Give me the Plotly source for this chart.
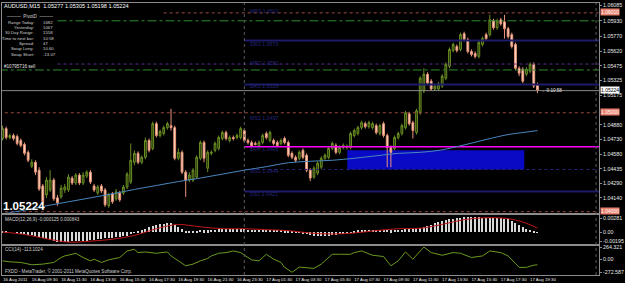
import plotly.graph_objects as go

# ---------------- data ----------------
symbol = "AUDUSD,M15"
bars = list(range(147))
opens = [1.0474,1.0484,1.0475,1.0477,1.0476,1.0472,1.0468,1.0460,1.0446,1.0450,
1.0442,1.0426,1.0417,1.0422,1.0432,1.0414,1.0415,1.0422,1.0422,1.0434,
1.0429,1.0437,1.0429,1.0436,1.0440,1.0426,1.0419,1.0426,1.0422,1.0406,
1.0418,1.0413,1.0419,1.0419,1.0425,1.0430,1.0450,1.0459,1.0450,1.0455,
1.0472,1.0464,1.0489,1.0477,1.0479,1.0485,1.0487,1.0485,1.0454,1.0460,
1.0440,1.0432,1.0432,1.0435,1.0454,1.0470,1.0444,1.0459,1.0462,1.0464,
1.0474,1.0480,1.0472,1.0475,1.0475,1.0475,1.0482,1.0472,1.0470,1.0469,
1.0466,1.0470,1.0479,1.0472,1.0472,1.0470,1.0469,1.0474,1.0470,1.0459,
1.0455,1.0454,1.0462,1.0457,1.0442,1.0435,1.0439,1.0445,1.0454,1.0455,
1.0464,1.0467,1.0460,1.0465,1.0465,1.0465,1.0477,1.0479,1.0485,1.0489,
1.0486,1.0485,1.0487,1.0479,1.0489,1.0477,1.0465,1.0464,1.0475,1.0479,
1.0485,1.0499,1.0490,1.0480,1.0500,1.0522,1.0539,1.0532,1.0524,1.0524,
1.0527,1.0535,1.0547,1.0563,1.0567,1.0564,1.0580,1.0574,1.0562,1.0560,
1.0557,1.0569,1.0579,1.0579,1.0593,1.0586,1.0594,1.0592,1.0585,1.0579,
1.0569,1.0545,1.0544,1.0539,1.0542,1.0549,1.05277]
highs = [1.0487,1.0486,1.0479,1.0479,1.0478,1.0474,1.0470,1.0462,1.0453,1.0452,
1.0445,1.0428,1.0435,1.0442,1.0434,1.0417,1.0427,1.0428,1.0438,1.0436,
1.0439,1.0439,1.0440,1.0442,1.0442,1.0428,1.0427,1.0428,1.0424,1.0419,
1.0420,1.0423,1.0421,1.0427,1.0440,1.0469,1.0462,1.0461,1.0457,1.0475,
1.0474,1.0491,1.0491,1.0483,1.0487,1.0491,1.0504,1.0487,1.0464,1.0462,
1.0442,1.0440,1.0444,1.0457,1.0472,1.0472,1.0462,1.0462,1.0471,1.0477,
1.0482,1.0482,1.0477,1.0477,1.0479,1.0486,1.0484,1.0474,1.0472,1.0471,
1.0472,1.0479,1.0481,1.0482,1.0474,1.0472,1.0474,1.0476,1.0472,1.0461,
1.0457,1.0462,1.0464,1.0459,1.0444,1.0446,1.0451,1.0456,1.0459,1.0466,
1.0471,1.0469,1.0467,1.0469,1.0468,1.0481,1.0484,1.0487,1.0492,1.0491,
1.0492,1.0491,1.0489,1.0489,1.0491,1.0479,1.0467,1.0477,1.0481,1.0489,
1.0502,1.0501,1.0492,1.0504,1.0537,1.0545,1.0541,1.0534,1.0529,1.0531,
1.0539,1.0551,1.0566,1.0571,1.0569,1.0581,1.0582,1.0576,1.0564,1.0562,
1.0573,1.0577,1.0581,1.0599,1.0595,1.0595,1.0596,1.0599,1.0587,1.0581,
1.0571,1.0547,1.0546,1.0546,1.0551,1.0551,1.05305]
lows = [1.0472,1.0473,1.0473,1.0472,1.0467,1.0465,1.0457,1.0450,1.0444,1.0437,
1.0421,1.0407,1.0414,1.0420,1.0411,1.0406,1.0413,1.0419,1.0420,1.0427,
1.0427,1.0427,1.0427,1.0434,1.0428,1.0420,1.0417,1.0419,1.0405,1.0404,
1.0408,1.0411,1.0410,1.0417,1.0423,1.0428,1.0447,1.0448,1.0448,1.0453,
1.0460,1.0462,1.0475,1.0475,1.0477,1.0483,1.0482,1.0452,1.0452,1.0438,
1.0415,1.0430,1.0430,1.0433,1.0452,1.0450,1.0440,1.0457,1.0460,1.0462,
1.0472,1.0472,1.0470,1.0472,1.0473,1.0473,1.0470,1.0468,1.0464,1.0467,
1.0464,1.0468,1.0473,1.0470,1.0467,1.0465,1.0467,1.0468,1.0455,1.0453,
1.0450,1.0452,1.0453,1.0440,1.0431,1.0433,1.0437,1.0443,1.0452,1.0453,
1.0462,1.0458,1.0458,1.0463,1.0463,1.0463,1.0475,1.0477,1.0483,1.0484,
1.0484,1.0483,1.0478,1.0477,1.0475,1.0445,1.0445,1.0462,1.0473,1.0477,
1.0483,1.0487,1.0474,1.0478,1.0498,1.0520,1.0528,1.0522,1.0522,1.0522,
1.0525,1.0533,1.0545,1.0561,1.0561,1.0562,1.0572,1.0560,1.0557,1.0555,
1.0555,1.0567,1.0573,1.0577,1.0584,1.0584,1.0588,1.0575,1.0575,1.0565,
1.0543,1.0537,1.0530,1.0537,1.0540,1.0525,1.05198]
closes = [1.0484,1.0475,1.0477,1.0474,1.0469,1.0467,1.0459,1.0452,1.0450,1.0440,
1.0423,1.0410,1.0432,1.0432,1.0413,1.0409,1.0424,1.0425,1.0435,1.0429,
1.0437,1.0429,1.0437,1.0440,1.0430,1.0422,1.0425,1.0421,1.0407,1.0417,
1.0410,1.0420,1.0412,1.0425,1.0438,1.0452,1.0459,1.0450,1.0455,1.0472,
1.0462,1.0489,1.0477,1.0481,1.0485,1.0489,1.0485,1.0454,1.0460,1.0440,
1.0432,1.0437,1.0442,1.0455,1.0470,1.0454,1.0460,1.0460,1.0469,1.0475,
1.0480,1.0474,1.0475,1.0474,1.0477,1.0484,1.0472,1.0470,1.0466,1.0468,
1.0470,1.0477,1.0475,1.0480,1.0469,1.0467,1.0472,1.0470,1.0457,1.0455,
1.0452,1.0460,1.0455,1.0442,1.0434,1.0444,1.0449,1.0454,1.0457,1.0464,
1.0469,1.0460,1.0465,1.0467,1.0466,1.0479,1.0482,1.0485,1.0490,1.0486,
1.0490,1.0489,1.0480,1.0487,1.0477,1.0465,1.0460,1.0475,1.0479,1.0487,
1.0500,1.0489,1.0482,1.0502,1.0535,1.0539,1.0530,1.0524,1.0527,1.0529,
1.0537,1.0549,1.0564,1.0569,1.0563,1.0579,1.0574,1.0562,1.0559,1.0557,
1.0571,1.0575,1.0575,1.0594,1.0586,1.0593,1.0590,1.0585,1.0577,1.0567,
1.0545,1.0540,1.0532,1.0544,1.0549,1.0527,1.05224]

ma_bars = [0,6,12,18,24,30,36,42,48,54,60,66,72,78,84,90,96,102,108,114,120,126,132,138,142,146]
ma_vals = [1.0398,1.04015,1.0406,1.0410,1.0414,1.0418,1.04225,1.04265,1.04305,1.0434,1.0438,1.0442,
           1.04455,1.04495,1.0451,1.0452,1.0454,1.04565,1.0459,1.0460,1.04625,1.04675,1.0473,1.0478,1.0480,1.0482]

macd_main = [0.0001,0.0001,0.0000,0.0000,-0.0001,-0.0002,-0.0003,-0.0005,-0.0006,-0.0008,
-0.0010,-0.0012,-0.0014,-0.0016,-0.0018,-0.0020,-0.0021,-0.0020,-0.0020,-0.0019,
-0.0018,-0.0018,-0.0017,-0.0017,-0.0016,-0.0015,-0.0014,-0.0013,-0.0012,-0.0011,
-0.0011,-0.0010,-0.0009,-0.0008,-0.0007,-0.0004,-0.0001,0.0002,0.0004,0.0008,
0.0011,0.0014,0.0016,0.0017,0.0018,0.0019,0.0019,0.0016,0.0012,0.0007,
0.0003,0.0002,0.0002,0.0003,0.0005,0.0004,0.0004,0.0005,0.0006,0.0007,
0.0007,0.0007,0.0007,0.0007,0.0007,0.0008,0.0007,0.0006,0.0006,0.0005,
0.0005,0.0005,0.0006,0.0006,0.0005,0.0005,0.0005,0.0004,0.0003,0.0002,
0.0001,-0.0001,-0.0002,-0.0004,-0.0006,-0.0007,-0.0007,-0.0008,-0.0008,-0.0007,
-0.0006,-0.0005,-0.0004,-0.0003,-0.0002,-0.0001,0.0002,0.0004,0.0005,0.0006,
0.0006,0.0006,0.0006,0.0006,0.0006,0.0005,0.0004,0.0005,0.0006,0.0006,
0.0007,0.0007,0.0007,0.0008,0.0010,0.0012,0.0014,0.0016,0.0019,0.0021,
0.0023,0.0025,0.0027,0.0029,0.0030,0.0031,0.0032,0.0032,0.0033,0.0032,
0.0032,0.0031,0.0031,0.0031,0.0031,0.0030,0.0030,0.0029,0.0027,0.0024,
0.0020,0.0016,0.0012,0.0008,0.0005,0.0002,-0.000125]
signal_bars = [0,6,12,18,24,30,36,42,46,48,54,60,66,72,78,84,90,96,102,108,114,120,126,132,138,142,146]
signal_vals = [0.0000,-0.0005,-0.0014,-0.0021,-0.0019,-0.0015,-0.0007,0.0007,0.0014,0.0016,0.0011,0.0007,0.0007,
               0.0005,0.0003,-0.0002,-0.0004,-0.0002,0.0003,0.0007,0.0008,0.0016,0.0026,0.0030,0.0028,0.0021,0.000843]

cci_bars = [0,2,5,8,11,14,16,17,19,20,22,24,25,27,29,32,33,34,36,37,39,42,45,46,48,50,52,54,56,57,
            59,61,63,65,67,68,70,72,74,76,77,79,81,83,85,87,90,92,95,96,98,101,104,106,108,110,112,115,
            117,120,123,125,128,131,133,136,138,141,143,145,146]
cci_vals = [-29,-50,-63,-113,-99,-63,42,76,111,132,42,-29,6,-63,-8,42,111,181,216,147,160,132,160,76,-29,
            -134,-99,-29,21,76,132,147,181,147,42,-8,-29,111,6,-63,-168,-272.587,-162,-168,-189,-99,111,111,
            111,147,181,90,63,-134,-29,160,6,264.321,147,90,147,132,42,76,181,147,76,-168,-168,-120,-113.1024]

time_label_bars = [0,8,16,24,32,40,48,56,64,72,80,88,96,104,112,120,128,136,144]
time_labels = ["16 Aug 2011","16 Aug 09:30","16 Aug 11:30","16 Aug 13:30","16 Aug 15:30","16 Aug 17:30",
               "16 Aug 19:30","16 Aug 21:30","16 Aug 23:30","17 Aug 01:30","17 Aug 03:30","17 Aug 05:30",
               "17 Aug 07:30","17 Aug 09:30","17 Aug 11:30","17 Aug 13:30","17 Aug 15:30","17 Aug 17:30",
               "17 Aug 19:30"]
price_ticks = [1.06085,1.05930,1.05770,1.05620,1.05475,1.05325,1.05175,1.04880,1.04730,1.04580,1.04435,1.04290,1.04140]
macd_ticks = [0.00281, 0.0, -0.00195]
macd_tick_text = ["0.00281", "0.00", "-0.00195"]
cci_ticks = [264.321, 0.0, -272.587]
cci_tick_text = ["264.321", "0.00", "-272.587"]

day_breaks = [66, 162]

# horizontal levels: price, first bar, colour, dash, width
level_prices = [1.0601, 1.0593, 1.0573, 1.05493, 1.05433, 1.05285, 1.05224, 1.0500, 1.04657, 1.04427, 1.04203, 1.0400]
level_start = [44, 15, 66, 15, -1, 66, -1, -1, 66, 66, 66, -1]
level_colors = ["#9A4A42", "#2E8B2E", "#1C1C6A", "#5A2D91", "#2E8B2E", "#1C1C6A", "#8A8A8A", "#9A4A42",
                "#FF00FF", "#26267A", "#1C1C6A", "#9A4A42"]
level_dash = ["dot", "dashdot", "solid", "dot", "dashdot", "solid", "solid", "dot", "solid", "dot", "solid", "dot"]
level_width = [1, 1, 2, 1, 1, 2, 1, 1, 1.5, 1, 2, 1]

pivot_label_text = ["MR3 1.0601", "DR2 1.0573", "MR2 1.0551", "DR1 1.0529", "MS2 1.0497", "DPP 1.0466",
                    "MS1 1.0444", "DS1 1.0421"]
pivot_label_price = [1.0603, 1.0570, 1.0550, 1.0527, 1.0495, 1.0463, 1.0441, 1.0418]

zone_bars = [94.1, 142.4]
zone_prices = [1.04427, 1.0462]

axis_boxes_price = [1.0601, 1.05224, 1.0500, 1.0400]
axis_boxes_text = ["1.06010", "1.05224", "1.05000", "1.04000"]
axis_boxes_bg = ["#E8806E", "#FFFFFF", "#E8806E", "#E8806E"]
axis_boxes_fg = ["#FFFFFF", "#000000", "#FFFFFF", "#FFFFFF"]

info_labels = ["Range Today:", "Yesterday:", "30 Day Range:", "Time to next bar:", "Spread:", "Swap Long:", "Swap Short:"]
info_values = ["1682", "1067", "1558", "10:58", "47", "10.60", "-13.07"]

# ---------------- figure ----------------
W, H = 625, 283
ML, MR, MT, MB = 2, 25, 1, 7
PW, PH = W - ML - MR, H - MT - MB
X0, X1 = -0.136, 162.8

def px(xp):
    return (xp - ML) / PW

def py(yp):
    return (H - MB - yp) / PH

FONT = "Liberation Sans"
fig = go.Figure()

fig.add_shape(type="rect", xref="x", yref="y", x0=zone_bars[0], x1=zone_bars[1],
              y0=zone_prices[0], y1=zone_prices[1], fillcolor="#0A0AC4", line=dict(width=0), layer="below")

for p, s, c, d, w in zip(level_prices, level_start, level_colors, level_dash, level_width):
    fig.add_trace(go.Scatter(x=[s, X1 + 1], y=[p, p], mode="lines", line=dict(color=c, dash=d, width=w),
                             hoverinfo="skip", showlegend=False, xaxis="x", yaxis="y"))

fig.add_trace(go.Scatter(x=ma_bars, y=ma_vals, mode="lines", line=dict(color="#4A86BE", width=1, shape="spline"),
                         hoverinfo="skip", showlegend=False, xaxis="x", yaxis="y"))

fig.add_trace(go.Candlestick(x=bars, open=opens, high=highs, low=lows, close=closes,
                             increasing=dict(line=dict(color="#6B8E23", width=1), fillcolor="#22330B"),
                             decreasing=dict(line=dict(color="#E9967A", width=1), fillcolor="#FFE0C8"),
                             whiskerwidth=0, hoverinfo="skip", showlegend=False, xaxis="x", yaxis="y"))

fig.add_trace(go.Bar(x=bars, y=macd_main, width=0.3, marker=dict(color="#D8D8D8", line=dict(width=0)),
                     hoverinfo="skip", showlegend=False, xaxis="x2", yaxis="y2"))
fig.add_trace(go.Scatter(x=signal_bars, y=signal_vals, mode="lines", line=dict(color="#C01818", width=1, shape="spline"),
                         hoverinfo="skip", showlegend=False, xaxis="x2", yaxis="y2"))
fig.add_trace(go.Scatter(x=cci_bars, y=cci_vals, mode="lines", line=dict(color="#6B9A1F", width=1),
                         hoverinfo="skip", showlegend=False, xaxis="x3", yaxis="y3"))

for b in day_breaks:
    fig.add_shape(type="line", xref="x", yref="paper", x0=b, x1=b, y0=0, y1=1,
                  line=dict(color="#5A5A5A", width=1, dash="dot"))

ann = []
def text(xp, yp, t, size=6, color="#E0E0E0", xanchor="left", bold=False, family=FONT):
    ann.append(dict(x=px(xp), y=py(yp), xref="paper", yref="paper", text=("<b>%s</b>" % t) if bold else t,
                    showarrow=False, xanchor=xanchor, yanchor="middle",
                    font=dict(size=size, color=color, family=family)))

SMALL = 4.6
text(1.5, 4.5, "%s  %.5f %.5f %.5f %.5f" % (symbol, opens[-1], highs[-1], lows[-1], closes[-1]), size=5.6, color="#FFFFFF")
text(5, 15, "———  PivotD  ———", size=SMALL, color="#D0D0D0")
for i, (lab, val) in enumerate(zip(info_labels, info_values)):
    yy = 20.5 + i * 5.4
    text(36, yy, lab, size=4.3, color="#D0D0D0", xanchor="right")
    text(41, yy, val, size=4.3, color="#D0D0D0")
text(2, 65, "#10795716 sell", size=SMALL, color="#E0E0E0")
text(1, 206, "%.5f" % closes[-1], size=11.5, color="#FFFFFF", bold=True)
text(541, 89, "←0:10:58", size=SMALL, color="#E0E0E0")

for t, p in zip(pivot_label_text, pivot_label_price):
    ann.append(dict(x=67, y=p, xref="x", yref="y", text=t, showarrow=False, xanchor="left", yanchor="middle",
                    font=dict(size=5.3, color="#26267E", family=FONT)))

for p, t, bg, fg in zip(axis_boxes_price, axis_boxes_text, axis_boxes_bg, axis_boxes_fg):
    ann.append(dict(x=1.0, y=p, xref="paper", yref="y", text=t, showarrow=False, xanchor="left", yanchor="middle",
                    xshift=1, yshift=0.5, bgcolor=bg, borderpad=0, font=dict(size=5.0, color=fg, family=FONT)))

text(3, 220, "MACD(12,26,9) -0.000125 0.000843", size=SMALL, color="#D0D0D0")
text(3, 250, "CCI(14) -113.1024", size=SMALL, color="#D0D0D0")
text(3, 272, "FXDD - MetaTrader, © 2001-2011 MetaQuotes Software Corp.", size=SMALL, color="#D0D0D0")

axis_common = dict(showgrid=False, zeroline=False, showline=True, mirror=True, linecolor="#8C8C8C", linewidth=1)
yfont = dict(size=5.3, color="#E8E8E8", family=FONT)

fig.update_layout(
    width=W, height=H, margin=dict(l=ML, r=MR, t=MT, b=MB),
    paper_bgcolor="#000000", plot_bgcolor="#000000", showlegend=False, bargap=0,
    annotations=ann, hovermode=False,
    xaxis=dict(domain=[0, 1], range=[X0, X1], anchor="y", showticklabels=False, ticks="",
               rangeslider=dict(visible=False), **axis_common),
    xaxis2=dict(domain=[0, 1], range=[X0, X1], anchor="y2", matches="x", showticklabels=False, ticks="", **axis_common),
    xaxis3=dict(domain=[0, 1], range=[X0, X1], anchor="y3", matches="x", ticks="", tickangle=0,
                tickmode="array", tickvals=[b + 3.5 for b in time_label_bars], ticktext=time_labels,
                tickfont=dict(size=4.4, color="#E8E8E8", family=FONT), **axis_common),
    yaxis=dict(domain=[(H - MB - 213) / PH, 1], range=[1.0399, 1.0611], side="right", anchor="x",
               tickmode="array", tickvals=price_ticks, ticktext=["%.5f" % v for v in price_ticks],
               ticks="outside", ticklen=2, tickcolor="#8C8C8C", tickfont=yfont, **axis_common),
    yaxis2=dict(domain=[(H - MB - 245) / PH, (H - MB - 215) / PH], range=[-0.00257, 0.00364], side="right", anchor="x2",
                tickmode="array", tickvals=macd_ticks, ticktext=macd_tick_text,
                ticks="outside", ticklen=2, tickcolor="#8C8C8C", tickfont=yfont, **axis_common),
    yaxis3=dict(domain=[0, (H - MB - 247) / PH], range=[-330, 280], side="right", anchor="x3",
                tickmode="array", tickvals=cci_ticks, ticktext=cci_tick_text,
                ticks="outside", ticklen=2, tickcolor="#8C8C8C", tickfont=yfont, **axis_common),
)

fig.write_html("out.html")
